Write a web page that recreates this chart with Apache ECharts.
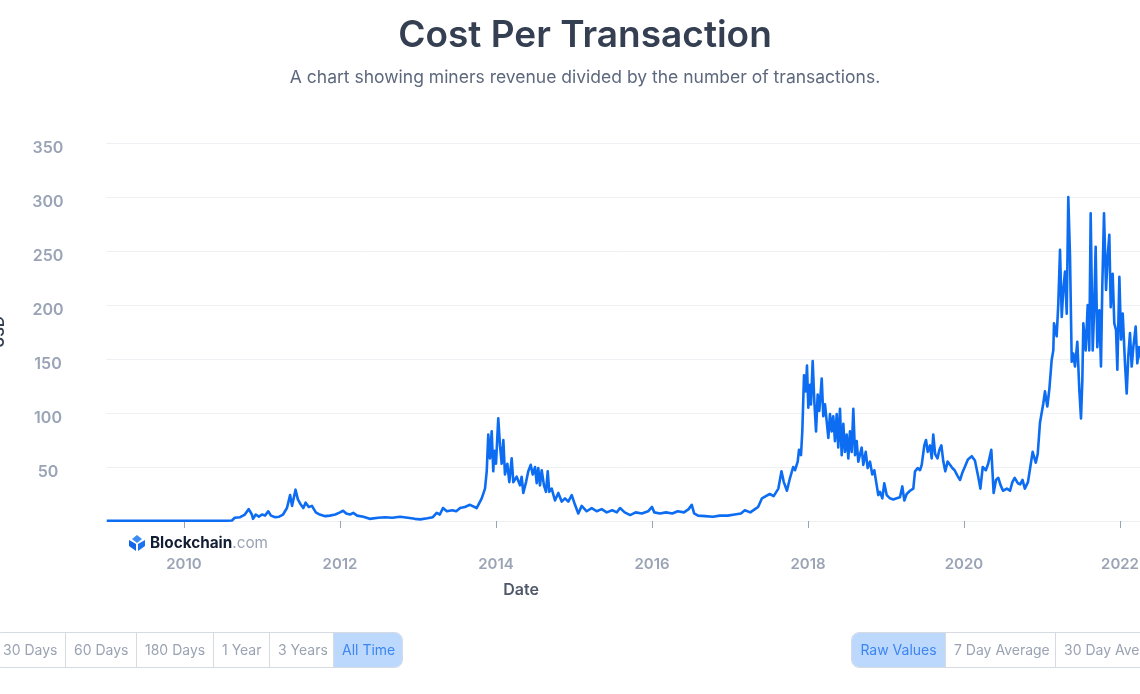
<!DOCTYPE html>
<html>
<head>
<meta charset="utf-8">
<script src="https://cdn.jsdelivr.net/npm/echarts@6/dist/echarts.min.js"></script>
<style>
  html, body { margin: 0; padding: 0; background: #ffffff; overflow: hidden; }
  #wrap { position: relative; width: 1140px; height: 694px; overflow: hidden; font-family: Inter, "Noto Sans", sans-serif; }
  #chart { position: absolute; left: 0; top: 0; width: 1140px; height: 694px; }
  .grp { position: absolute; top: 632px; height: 34px; display: flex; border: 1px solid #d5dae3; border-radius: 8px; overflow: hidden; background: #fff; }
  .btn { height: 34px; line-height: 34px; padding: 0 8px; font-size: 14px; color: #9aa3b3; border-left: 1px solid #d5dae3; white-space: nowrap; box-sizing: border-box; text-align: center; }
  .btn:first-child { border-left: none; }
  .btn.on { background: #bcd8fc; color: #3d86f2; }
</style>
</head>
<body>
<div id="wrap">
  <div id="chart"></div>
  <div class="grp" style="left:-6px;">
    <div class="btn" style="width:70px;">30 Days</div>
    <div class="btn" style="width:71px;">60 Days</div>
    <div class="btn" style="width:77px;">180 Days</div>
    <div class="btn" style="width:56px;">1 Year</div>
    <div class="btn" style="width:64px;">3 Years</div>
    <div class="btn on" style="width:69px;">All Time</div>
  </div>
  <div class="grp" style="left:851px;">
    <div class="btn on" style="width:93px;">Raw Values</div>
    <div class="btn" style="width:110px;">7 Day Average</div>
    <div class="btn" style="width:110px;">30 Day Average</div>
  </div>
</div>
<script>
// Dates as decimal years, values in USD
const dateYears = [
  2009.01, 2010.55, 2010.615, 2010.65, 2010.72, 2010.78, 2010.83, 2010.85, 2010.87, 2010.885,
  2010.92, 2010.96, 2011.0, 2011.04, 2011.08, 2011.115, 2011.17, 2011.22, 2011.27, 2011.32,
  2011.36, 2011.385, 2011.43, 2011.46, 2011.49, 2011.53, 2011.56, 2011.6, 2011.64, 2011.69,
  2011.74, 2011.81, 2011.87, 2011.94, 2012.0, 2012.04, 2012.08, 2012.13, 2012.17, 2012.22,
  2012.3, 2012.38, 2012.49, 2012.58, 2012.67, 2012.77, 2012.87, 2012.96, 2013.03, 2013.12,
  2013.19, 2013.24, 2013.28, 2013.32, 2013.37, 2013.44, 2013.49, 2013.54, 2013.6, 2013.667,
  2013.752, 2013.817, 2013.859, 2013.881, 2013.901, 2013.923, 2013.945, 2013.965, 2013.978, 2014.0,
  2014.029, 2014.051, 2014.073, 2014.094, 2014.115, 2014.145, 2014.171, 2014.201, 2014.222, 2014.265,
  2014.308, 2014.329, 2014.35, 2014.385, 2014.414, 2014.445, 2014.471, 2014.5, 2014.522, 2014.542,
  2014.564, 2014.586, 2014.615, 2014.641, 2014.663, 2014.683, 2014.714, 2014.756, 2014.799, 2014.842,
  2014.885, 2014.927, 2014.971, 2015.013, 2015.055, 2015.099, 2015.163, 2015.227, 2015.291, 2015.355,
  2015.419, 2015.49, 2015.55, 2015.59, 2015.65, 2015.72, 2015.79, 2015.87, 2015.95, 2016.0,
  2016.03, 2016.1, 2016.18, 2016.26, 2016.33, 2016.41, 2016.47, 2016.51, 2016.54, 2016.59,
  2016.68, 2016.78, 2016.87, 2016.97, 2017.06, 2017.14, 2017.19, 2017.26, 2017.32, 2017.36,
  2017.41, 2017.46, 2017.51, 2017.56, 2017.62, 2017.66, 2017.69, 2017.73, 2017.77, 2017.81,
  2017.833, 2017.868, 2017.885, 2017.91, 2017.927, 2017.949, 2017.971, 2017.987, 2018.004, 2018.026,
  2018.038, 2018.06, 2018.081, 2018.103, 2018.124, 2018.145, 2018.176, 2018.196, 2018.218, 2018.24,
  2018.261, 2018.282, 2018.304, 2018.324, 2018.346, 2018.368, 2018.388, 2018.41, 2018.432, 2018.453,
  2018.474, 2018.496, 2018.517, 2018.538, 2018.56, 2018.581, 2018.603, 2018.624, 2018.645, 2018.688,
  2018.709, 2018.74, 2018.765, 2018.795, 2018.824, 2018.85, 2018.872, 2018.901, 2018.923, 2018.953,
  2018.978, 2019.009, 2019.051, 2019.094, 2019.137, 2019.179, 2019.209, 2019.235, 2019.265, 2019.308,
  2019.35, 2019.372, 2019.406, 2019.436, 2019.458, 2019.491, 2019.513, 2019.535, 2019.564, 2019.586,
  2019.606, 2019.63, 2019.66, 2019.685, 2019.71, 2019.735, 2019.76, 2019.79, 2019.82, 2019.85,
  2019.88, 2019.915, 2019.95, 2019.98, 2020.01, 2020.05, 2020.1, 2020.14, 2020.18, 2020.21,
  2020.24, 2020.28, 2020.31, 2020.35, 2020.38, 2020.41, 2020.44, 2020.47, 2020.5, 2020.55,
  2020.59, 2020.62, 2020.65, 2020.69, 2020.72, 2020.75, 2020.78, 2020.82, 2020.85, 2020.88,
  2020.92, 2020.945, 2020.974, 2021.017, 2021.038, 2021.068, 2021.094, 2021.124, 2021.145, 2021.154,
  2021.188, 2021.209, 2021.231, 2021.253, 2021.273, 2021.295, 2021.317, 2021.337, 2021.359, 2021.381,
  2021.401, 2021.423, 2021.453, 2021.478, 2021.5, 2021.517, 2021.53, 2021.56, 2021.586, 2021.606,
  2021.624, 2021.65, 2021.667, 2021.688, 2021.709, 2021.735, 2021.756, 2021.773, 2021.795, 2021.821,
  2021.842, 2021.863, 2021.881, 2021.906, 2021.927, 2021.949, 2021.966, 2021.992, 2022.013, 2022.035,
  2022.064, 2022.086, 2022.106, 2022.128, 2022.15, 2022.171, 2022.201, 2022.222, 2022.244, 2022.27,
  2022.32, 2022.38
];
const costUSD = [
  0.2, 0.3, 0.5, 3, 3.5, 6, 11, 12.5, 6, 2,
  6, 4, 6, 5, 9, 5, 3.5, 4, 6, 12,
  24, 14, 29, 20, 16, 12, 17, 13, 14, 8,
  6, 4.5, 5, 6, 8, 9.5, 7, 6, 7.5, 5,
  4, 2, 3, 3.5, 3, 4, 3, 2, 1.5, 2.5,
  3.5, 7.5, 6, 12, 9, 10, 9, 12, 13, 15,
  12, 21, 30, 46, 80, 58, 83, 46, 65, 53,
  95, 70, 53, 75, 43, 53, 36, 58, 36, 41,
  33, 41, 26, 36, 46, 52, 43, 50, 35, 49,
  33, 47, 33, 27, 46, 27, 30, 19, 26, 18,
  21, 18, 24, 15, 7, 14, 9, 12, 9, 11,
  8, 10, 8, 12, 8, 5.5, 8, 7, 9, 13,
  8, 7, 8, 7, 9, 8, 11, 15, 7, 5,
  4.5, 4, 5, 5, 6, 7, 10, 8, 11, 13,
  21, 23, 25, 23, 30, 46, 36, 28, 40, 50,
  47, 55, 66, 61, 83, 135, 120, 144, 105, 126,
  108, 148, 111, 83, 117, 102, 132, 97, 108, 108,
  77, 99, 83, 97, 74, 99, 68, 104, 61, 90,
  64, 80, 58, 83, 64, 104, 61, 74, 55, 68,
  52, 64, 49, 55, 43, 47, 37, 24, 27, 21,
  35, 24, 21, 20, 21, 22, 32, 19, 25, 28,
  30, 46, 49, 47, 52, 70, 75, 64, 70, 58,
  80, 62, 58, 66, 70, 55, 46, 55, 52, 49,
  47, 42, 38, 45, 50, 57, 60, 56, 42, 30,
  50, 47, 53, 66, 26, 38, 40, 33, 28, 30,
  28, 36, 40, 35, 34, 38, 30, 36, 50, 64,
  54, 62, 91, 109, 120, 106, 122, 149, 158, 183,
  171, 201, 251, 189, 214, 231, 192, 300, 245, 147.5,
  155, 143, 166, 122, 95, 130, 183, 158, 200, 158,
  285, 158, 192, 254, 161, 195, 143, 217, 285, 214,
  245, 265, 198, 229, 183, 177, 140, 226, 168, 192,
  146, 118, 152, 174, 143, 161, 180, 146, 161, 150,
  160, 155
];
const yearTicks = [2010, 2012, 2014, 2016, 2018, 2020, 2022];
const yTicksMax = 350;

const seriesData = dateYears.map((d, i) => [d, costUSD[i]]);

const chart = echarts.init(document.getElementById('chart'), null, { renderer: 'canvas' });
const font = 'Inter, "Noto Sans", sans-serif';
chart.setOption({
  animation: false,
  textStyle: { fontFamily: font },
  grid: { left: 106, right: -19, top: 143, bottom: 173, containLabel: false, outerBoundsMode: 'none' },
  xAxis: {
    type: 'value', min: 2009, max: 2022.5, offset: 17,
    axisLine: { show: false },
    splitLine: { show: false },
    axisTick: { show: true, customValues: yearTicks, length: 7, lineStyle: { color: '#9aa3b3', width: 1 } },
    axisLabel: {
      customValues: yearTicks, margin: 19, fontSize: 15, fontWeight: 600, color: '#9aa4b6', fontFamily: font,
      formatter: v => String(Math.round(v))
    }
  },
  yAxis: {
    type: 'value', min: 0, max: yTicksMax, interval: 50,
    name: 'USD', nameLocation: 'middle', nameGap: 99,
    nameTextStyle: { fontFamily: font, fontSize: 15, fontWeight: 600, color: '#353f52' },
    axisLine: { show: false }, axisTick: { show: false },
    axisLabel: {
      showMinLabel: false, align: 'center', margin: 58,
      formatter: v => '{v|' + v + '}',
      rich: { v: { padding: [10, 0, 0, 0], fontSize: 16, fontWeight: 600, color: '#9aa4b6', fontFamily: font } }
    },
    splitLine: { lineStyle: { color: '#eef0f4', width: 1 } }
  },
  series: [{
    type: 'line', data: seriesData, showSymbol: false, symbol: 'none',
    lineStyle: { color: '#0c6cf2', width: 2.6, join: 'round' },
    itemStyle: { color: '#0c6cf2' }
  }],
  graphic: [
    { type: 'text', x: 585, y: 36, style: { text: 'Cost Per Transaction', fontFamily: font, fontSize: 37, fontWeight: 600, fill: '#353f52', align: 'center', verticalAlign: 'middle' } },
    { type: 'text', x: 585, y: 78, style: { text: 'A chart showing miners revenue divided by the number of transactions.', fontFamily: font, fontSize: 17.5, fontWeight: 400, fill: '#5d687c', align: 'center', verticalAlign: 'middle' } },
    { type: 'text', x: 521, y: 590, style: { text: 'Date', fontFamily: font, fontSize: 16, fontWeight: 600, fill: '#4e5869', align: 'center', verticalAlign: 'middle' } },
    { type: 'group', x: 129, y: 535, children: [
      { type: 'polygon', shape: { points: [[8,0],[13,4],[8,8],[3,4]] }, style: { fill: '#3b8df5' } },
      { type: 'polygon', shape: { points: [[0,5],[7,9],[7,16],[0,11]] }, style: { fill: '#1266e8' } },
      { type: 'polygon', shape: { points: [[16,5],[9,9],[9,16],[16,11]] }, style: { fill: '#1a73f0' } },
      { type: 'text', x: 21, y: 8, style: {
        text: '{a|Blockchain}{b|.com}', verticalAlign: 'middle',
        rich: {
          a: { fontFamily: font, fontSize: 15.3, fontWeight: 700, fill: '#121d33', color: '#121d33' },
          b: { fontFamily: font, fontSize: 15.3, fontWeight: 400, fill: '#9aa3b3', color: '#9aa3b3' }
        }
      } }
    ] }
  ]
});
</script>
</body>
</html>
